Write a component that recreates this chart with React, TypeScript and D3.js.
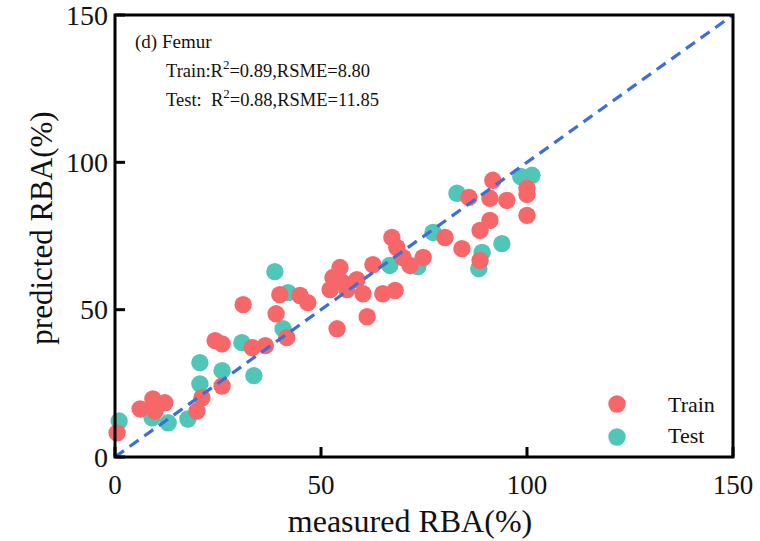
import * as d3 from "d3";
import React from "react";

// measured vs predicted RBA (%), femur
const trainMeasured = [0.5, 6.1, 9.2, 9.7, 12.1, 19.9, 21.1, 26.0, 24.3, 26.0, 31.1, 33.3, 36.5, 39.1, 40.0, 41.7, 44.9, 46.8, 53.9, 61.2, 54.6, 52.9, 52.2, 56.3, 55.3, 58.7, 60.2, 62.6, 65.0, 68.0, 67.2, 68.4, 69.9, 71.6, 74.8, 80.1, 84.2, 85.9, 88.6, 88.6, 91.0, 91.7, 91.0, 95.1, 100.0, 100.0, 100.0];
const trainPredicted = [8.2, 16.3, 19.7, 15.6, 18.4, 15.6, 20.1, 24.1, 39.5, 38.4, 51.7, 37.1, 37.8, 48.6, 55.1, 40.5, 54.8, 52.4, 43.5, 47.6, 64.3, 60.9, 56.8, 56.8, 59.2, 60.2, 55.4, 65.3, 55.4, 56.5, 74.5, 71.1, 67.7, 65.0, 67.7, 74.5, 70.7, 88.1, 66.7, 76.9, 80.3, 93.9, 87.8, 87.1, 91.2, 89.1, 82.0];

const testMeasured = [1.0, 9.0, 12.9, 17.7, 20.6, 20.6, 26.0, 30.8, 33.7, 38.8, 42.0, 40.8, 66.7, 73.5, 77.2, 83.0, 89.1, 88.3, 93.9, 98.5, 101.2];
const testPredicted = [12.2, 13.3, 11.6, 12.9, 24.8, 32.0, 29.3, 38.8, 27.6, 62.9, 55.8, 43.5, 65.0, 64.6, 76.2, 89.5, 69.4, 63.9, 72.4, 95.2, 95.6];

const ticks = [0, 50, 100, 150];

const RED = "#f6676a";
const TEAL = "#4fc6b8";
const FONT = "'Liberation Serif', 'Times New Roman', serif";

export default function App() {
  const W = 760, H = 541;
  const m = { left: 115, right: 27, top: 15, bottom: 84 };
  const x = d3.scaleLinear().domain([0, 150]).range([m.left, W - m.right]);
  const y = d3.scaleLinear().domain([0, 150]).range([H - m.bottom, m.top]);

  const train = trainMeasured.map((v, i) => ({ m: v, p: trainPredicted[i] }));
  const test = testMeasured.map((v, i) => ({ m: v, p: testPredicted[i] }));
  const diag = d3.line<number>().x(d => x(d)).y(d => y(d))([0, 150]) ?? "";

  return (
    <svg width={W} height={H} style={{ position: "absolute", left: 0, top: 0, background: "#fff" }} fontFamily={FONT}>
      {test.map((d, i) => <circle key={"te" + i} cx={x(d.m)} cy={y(d.p)} r={8.7} fill={TEAL} />)}
      {train.map((d, i) => <circle key={"tr" + i} cx={x(d.m)} cy={y(d.p)} r={8.7} fill={RED} />)}

      <path d={diag} stroke="#3b6fd6" strokeWidth={3.2} strokeDasharray="11 7" fill="none" />

      {/* frame */}
      <rect x={x(0)} y={y(150)} width={x(150) - x(0)} height={y(0) - y(150)} fill="none" stroke="#000" strokeWidth={3} />

      {ticks.map(t => (
        <g key={"x" + t}>
          <line x1={x(t)} x2={x(t)} y1={y(0)} y2={y(0) - 10} stroke="#000" strokeWidth={3} />
          <text x={x(t)} y={y(0) + 37} textAnchor="middle" fontSize={27} fill="#111">{t}</text>
        </g>
      ))}
      {ticks.map(t => (
        <g key={"y" + t}>
          <line x1={x(0)} x2={x(0) + 10} y1={y(t)} y2={y(t)} stroke="#000" strokeWidth={3} />
          <text x={x(0) - 7} y={y(t)} dy="0.35em" textAnchor="end" fontSize={28} fill="#111">{t}</text>
        </g>
      ))}

      <text x={(x(0) + x(150)) / 2 - 14} y={532} textAnchor="middle" fontSize={32} fill="#111">measured RBA(%)</text>
      <text transform={`translate(52,228) rotate(-90)`} textAnchor="middle" fontSize={31} fill="#111">predicted RBA(%)</text>

      <text x={135} y={48} fontSize={19} fill="#111">(d) Femur</text>
      <text x={166} y={77} fontSize={18.5} fill="#111">
        Train:R<tspan dy={-8} fontSize={13}>2</tspan><tspan dy={8}>=0.89,RSME=8.80</tspan>
      </text>
      <text x={166} y={106} fontSize={18.5} fill="#111" xmlSpace="preserve">
        Test:  R<tspan dy={-8} fontSize={13}>2</tspan><tspan dy={8}>=0.88,RSME=11.85</tspan>
      </text>

      <circle cx={617} cy={404} r={8.7} fill={RED} />
      <text x={668} y={412} fontSize={22} fill="#111">Train</text>
      <circle cx={617} cy={437} r={8.7} fill={TEAL} />
      <text x={668} y={443} fontSize={22} fill="#111">Test</text>
    </svg>
  );
}
